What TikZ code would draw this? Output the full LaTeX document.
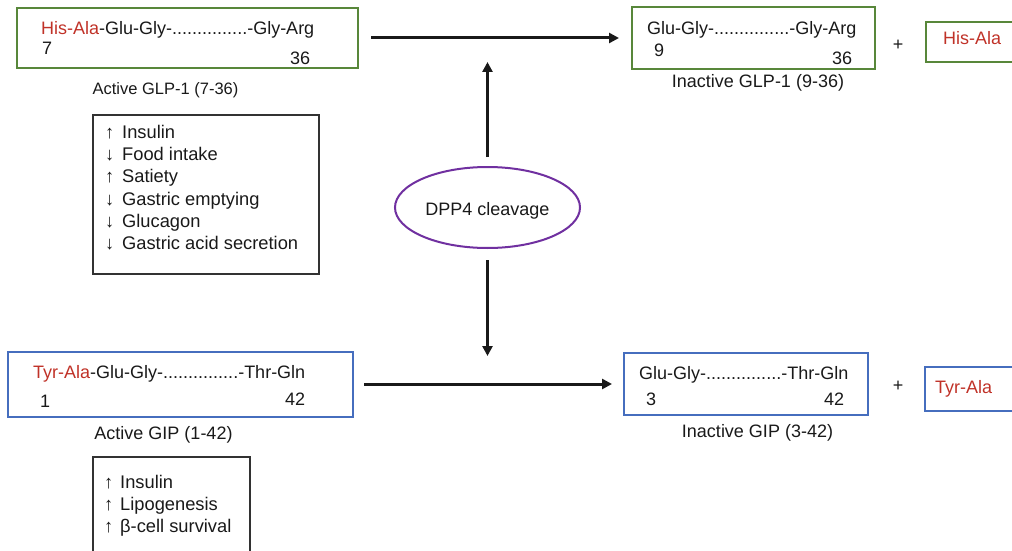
\documentclass[tikz,border=0pt]{standalone}
\usepackage{fontspec}
\setmainfont{Liberation Sans}
\usetikzlibrary{shapes.geometric,arrows.meta}
\definecolor{glpgreen}{RGB}{88,135,58}
\definecolor{gipblue}{RGB}{70,110,190}
\definecolor{aared}{RGB}{192,50,40}
\definecolor{dpppurple}{RGB}{112,48,160}
\definecolor{effgray}{RGB}{50,50,50}
\definecolor{txt}{RGB}{25,25,25}
\begin{document}
\begin{tikzpicture}[x=1pt,y=-1pt,
  glpbox/.style={draw=glpgreen,line width=2pt,rectangle,inner sep=0pt},
  gipbox/.style={draw=gipblue,line width=2pt,rectangle,inner sep=0pt},
  effbox/.style={draw=effgray,line width=1.2pt,rectangle,inner sep=0pt},
  pep/.style={font=\fontsize{18}{21.6}\selectfont,text=txt,inner sep=0pt,anchor=base west},
  lab/.style={font=\fontsize{18}{21.6}\selectfont,text=txt,inner sep=0pt,anchor=base},
  efftext/.style={font=\fontsize{18.3}{22.4}\selectfont,text=txt,inner sep=0pt,anchor=base west},
  bigarrow/.style={line width=3pt,draw=black!90,-{Triangle[length=10pt,width=10pt]}}]
\useasboundingbox (0,0) rectangle (1012,551);
% boxes
\node[glpbox,minimum width=341pt,minimum height=60pt] (glp) at (187.5,38) {};
\node[glpbox,minimum width=243pt,minimum height=62pt] (glpi) at (753.5,38) {};
\node[glpbox,minimum width=96pt,minimum height=40pt] (hisala) at (974,42) {};
\node[gipbox,minimum width=345pt,minimum height=65pt] (gip) at (180.5,384) {};
\node[gipbox,minimum width=244pt,minimum height=62pt] (gipi) at (746,384) {};
\node[gipbox,minimum width=97pt,minimum height=44pt] (tyrala) at (973.5,389) {};
\node[effbox,minimum width=226pt,minimum height=159pt] (eff1) at (206,194.5) {};
\node[effbox,minimum width=157pt,minimum height=110pt] (eff2) at (171.5,512) {};
\node[draw=dpppurple,line width=2pt,ellipse,minimum width=185pt,minimum height=81pt,inner sep=0pt] (dpp) at (487.5,207.5) {};
% peptide texts
\node[pep] (t1) at (41,34.5) {{\color{aared}His-Ala}-Glu-Gly-...............-Gly-Arg};
\node[pep] (n7) at (42,55) {7};
\node[pep] (n36a) at (290,65) {36};
\node[pep] (t2) at (647,34.5) {Glu-Gly-...............-Gly-Arg};
\node[pep] (n9) at (654,57) {9};
\node[pep] (n36b) at (832,65) {36};
\node[pep] (t3) at (943,45) {\color{aared}His-Ala};
\node[pep] (t4) at (33,378) {{\color{aared}Tyr-Ala}-Glu-Gly-...............-Thr-Gln};
\node[pep] (n1) at (40,407) {1};
\node[pep] (n42a) at (285,405) {42};
\node[pep] (t5) at (639,379) {Glu-Gly-...............-Thr-Gln};
\node[pep] (n3) at (646,405) {3};
\node[pep] (n42b) at (824,405) {42};
\node[pep] (t6) at (935,393) {\color{aared}Tyr-Ala};
\node[lab] (plus1) at (898,51) {+};
\node[lab] (plus2) at (898,391) {+};
% labels
\node[lab,font=\fontsize{16.5}{20}\selectfont] (l1) at (165.5,94) {Active GLP-1 (7-36)};
\node[lab] (l2) at (758,88) {Inactive GLP-1 (9-36)};
\node[lab] (l3) at (163.5,439) {Active GIP (1-42)};
\node[lab] (l4) at (757.5,437) {Inactive GIP (3-42)};
\node[lab] (dpptext) at (487.5,215) {DPP4 cleavage};
% effects
\node[efftext] (e1) at (105,138) {\begin{tabular}[t]{@{}l@{}}
\makebox[17pt][l]{↑}Insulin\\
\makebox[17pt][l]{↓}Food intake\\
\makebox[17pt][l]{↑}Satiety\\
\makebox[17pt][l]{↓}Gastric emptying\\
\makebox[17pt][l]{↓}Glucagon\\
\makebox[17pt][l]{↓}Gastric acid secretion
\end{tabular}};
\node[efftext] (e2) at (104,488) {\begin{tabular}[t]{@{}l@{}}
\makebox[16pt][l]{↑}Insulin\\
\makebox[16pt][l]{↑}Lipogenesis\\
\makebox[16pt][l]{↑}β-cell survival
\end{tabular}};
% arrows
\coordinate (uptip) at (487.5,62);
\coordinate (downtip) at (487.5,356);
\draw[bigarrow,shorten <=12pt,shorten >=12pt] (glp.east) -- (glp.east -| glpi.west);
\draw[bigarrow,shorten <=10pt,shorten >=11pt] (gip.east) -- (gip.east -| gipi.west);
\draw[bigarrow,shorten <=9pt] (dpp.north) -- (uptip);
\draw[bigarrow,shorten <=11pt] (dpp.south) -- (downtip);
\end{tikzpicture}
\end{document}
